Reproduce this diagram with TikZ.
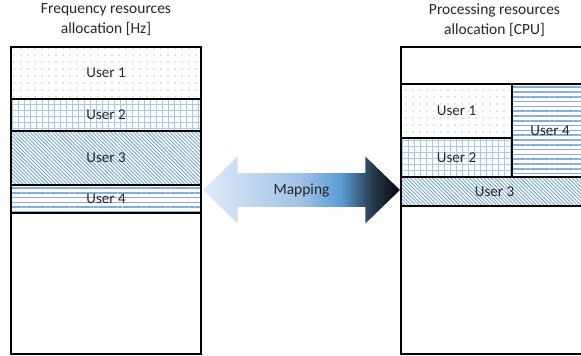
\documentclass[tikz,border=0pt]{standalone}
\usepackage{fontspec}
\setmainfont{Carlito}
\usepackage{tikz}
\usetikzlibrary{patterns.meta,shapes.arrows}
\definecolor{txtgray}{rgb}{0.15,0.15,0.15}
\definecolor{dotblue}{rgb}{0.36,0.58,0.84}
\definecolor{gridblue}{rgb}{0.66,0.79,0.92}
\definecolor{diagblue}{rgb}{0.45,0.63,0.85}
\definecolor{lineblue}{rgb}{0.50,0.68,0.87}
\pgfdeclarehorizontalshading{mapshade}{100bp}{rgb(0bp)=(0.88,0.92,0.97);
  rgb(25bp)=(0.88,0.92,0.97); rgb(50bp)=(0.62,0.76,0.90);
  rgb(60bp)=(0.36,0.61,0.84); rgb(68bp)=(0.15,0.22,0.30);
  rgb(75bp)=(0.02,0.03,0.05); rgb(100bp)=(0.02,0.03,0.05)}
\tikzset{band/.style={draw=black, line width=1.3pt, anchor=north west, outer sep=0pt,
            inner sep=0pt, text=txtgray, font=\fontsize{15}{18}\selectfont},
         outerbox/.style={draw=black, line width=2.6pt, anchor=north west, outer sep=0pt, inner sep=0pt},
         title/.style={align=center, text=txtgray, font=\fontsize{15.5}{20}\selectfont},
         userdots/.style={pattern={Dots[distance=7pt, radius=0.6pt]}, pattern color=dotblue},
         usergrid/.style={pattern={Hatch[distance=6pt, line width=0.5pt]}, pattern color=gridblue},
         userdiag/.style={pattern={Lines[distance=2.6pt, angle=-45, line width=0.9pt]}, pattern color=diagblue},
         userlines/.style={pattern={Lines[distance=4.8pt, angle=0, line width=1.6pt]}, pattern color=lineblue}
}

\begin{document}
\begin{tikzpicture}[x=1pt,y=-1pt]
\useasboundingbox (0,0) rectangle (581,356);
\clip (0,0) rectangle (581,356);
\coordinate (F) at (11,47);
\coordinate (P) at (401,47);
\node[title] (ftitle) at (106,20) {Frequency resources\\allocation [Hz]};
\node[title] (ptitle) at (494.5,20) {Processing resources\\allocation [CPU]};
% frequency side
\node[band, userdots, minimum width=190pt, minimum height=52pt] (f1) at (F) {User 1};
\node[band, usergrid, minimum width=190pt, minimum height=32pt] (f2) at (f1.south west) {User 2};
\node[band, userdiag, minimum width=190pt, minimum height=54pt] (f3) at (f2.south west) {User 3};
\node[band, userlines, minimum width=190pt, minimum height=28pt] (f4) at (f3.south west) {User 4};
\node[outerbox, minimum width=190pt, minimum height=307pt] (fbox) at (F) {};
% processing side
\node[band, userdots, minimum width=111pt, minimum height=54pt] (p1) at (401,84) {User 1};
\node[band, usergrid, minimum width=111pt, minimum height=39pt] (p2) at (p1.south west) {User 2};
\node[band, userlines, minimum width=76pt, minimum height=93pt] (p4) at (p1.north east) {User 4};
\node[band, userdiag, minimum width=187pt, minimum height=29pt] (p3) at (p2.south west) {User 3};
\node[outerbox, minimum width=187pt, minimum height=307pt] (pbox) at (P) {};
% mapping arrow
\node[double arrow, shading=mapshade, minimum height=197pt, inner xsep=4pt, inner ysep=10pt,
      double arrow head extend=16.5pt, double arrow tip angle=88, text=txtgray,
      font=\fontsize{15.5}{18}\selectfont] (map) at (301.5,190) {Mapping};
\end{tikzpicture}
\end{document}
